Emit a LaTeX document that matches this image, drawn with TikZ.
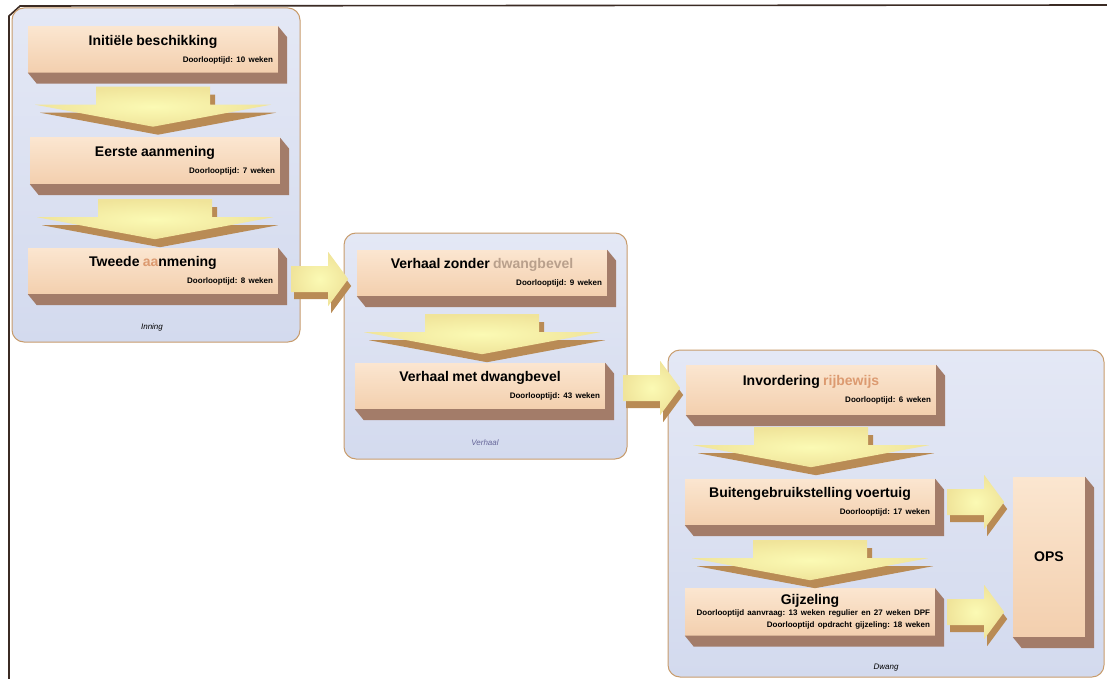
\documentclass[tikz,border=0pt]{standalone}
\usepackage{fontspec}
\setmainfont{Liberation Sans}
\frenchspacing
\usetikzlibrary{shapes,arrows}
\definecolor{phasefill}{HTML}{D3DAEE}
\definecolor{phasetop}{HTML}{E4E8F5}
\definecolor{phaseline}{HTML}{C89C6C}
\definecolor{stagetop}{HTML}{FBE6D0}
\definecolor{stagebot}{HTML}{F3CFAE}
\definecolor{depthcol}{HTML}{A37C69}
\definecolor{arrowlight}{HTML}{FBFAB4}
\definecolor{arrowyellow}{HTML}{F0E49A}
\definecolor{arrowbrown}{HTML}{B98B55}
\definecolor{scanline}{HTML}{3B2B24}
\definecolor{smudge}{HTML}{DC9A70}
\definecolor{smudgegray}{HTML}{B9A08C}
\tikzstyle{phase} = [draw=phaseline, line width=1pt, rounded corners=12pt, top color=phasetop, bottom color=phasefill, inner sep=0pt]
\tikzstyle{stage} = [top color=stagetop, bottom color=stagebot, minimum width=250pt, minimum height=46pt, text width=240pt, inner sep=5pt, align=right]
\tikzstyle{phaselabel} = [font=\fontsize{8}{9}\selectfont\itshape]
\tikzstyle{arrowface} = [inner color=arrowlight, outer color=arrowyellow]
\tikzstyle{arrowedge} = [fill=arrowbrown]
\newcommand{\stagetitle}[1]{\makebox[240pt][c]{\fontsize{14}{16}\selectfont\bfseries #1}}
\newcommand{\durfont}{\fontsize{8}{10}\selectfont\bfseries}
\newcommand{\boxdepth}[1]{\fill[depthcol] (#1.north east) -- ++(9,11) -- ([shift={(9,11)}]#1.south east) -- ([shift={(9,11)}]#1.south west) -- (#1.south west) -- (#1.south east) -- cycle;}
\tikzset{
  chevdown/.pic={
    \path[arrowedge] (-52,8) -- (62,8) -- (62,26) -- (123,26) -- (5,48) -- (-113,26) -- (-52,26) -- cycle;
    \path[arrowface] (-57,0) -- (57,0) -- (57,18) -- (118,18) -- (0,40) -- (-118,18) -- (-57,18) -- cycle;
  },
  chevright/.pic={
    \path[arrowedge] (3,-6) -- (40,-6) -- (40,-20) -- (60,7) -- (40,34) -- (40,20) -- (3,20) -- cycle;
    \path[arrowface] (0,-13) -- (37,-13) -- (37,-27) -- (57,0) -- (37,27) -- (37,13) -- (0,13) -- cycle;
  }
}

\begin{document}
\begin{tikzpicture}[x=1pt, y=-1pt]
\useasboundingbox (0,0) rectangle (1107,679);
\draw[scanline, line width=1.6pt] (9,679) -- (9,16) -- (20,6) -- (1107,5);

% fasen
\node[phase, minimum width=288pt, minimum height=334pt] (inning) at (156,175) {};
\node[phase, minimum width=283pt, minimum height=226pt] (verhaal) at (485.5,346) {};
\node[phase, minimum width=436pt, minimum height=327pt] (dwang) at (886,513.5) {};
\node[phaselabel] (inninglbl) at (152,327) {Inning};
\node[phaselabel, text=gray!80!blue] (verhaallbl) at (485,443) {Verhaal};
\node[phaselabel] (dwanglbl) at (886,668) {Dwang};

% inning
\node[stage] (b1) at (153,49.5) {\stagetitle{Initiële beschikking}\\[5pt] \durfont Doorlooptijd: 10 weken};
\boxdepth{b1}
\node[stage] (b2) at (155,161) {\stagetitle{Eerste aanmening}\\[5pt] \durfont Doorlooptijd: 7 weken};
\boxdepth{b2}
\node[stage] (b3) at (153,271) {\stagetitle{Tweede \textcolor{smudge}{aa}nmening}\\[5pt] \durfont Doorlooptijd: 8 weken};
\boxdepth{b3}
\pic at ([yshift=-14pt]b1.south) {chevdown};
\pic at ([yshift=-15pt]b2.south) {chevdown};

% verhaal
\node[stage] (b4) at (482,273) {\stagetitle{Verhaal zonder \textcolor{smudgegray}{dwangbevel}}\\[5pt] \durfont Doorlooptijd: 9 weken};
\boxdepth{b4}
\node[stage] (b5) at (480,386) {\stagetitle{Verhaal met dwangbevel}\\[5pt] \durfont Doorlooptijd: 43 weken};
\boxdepth{b5}
\pic at ([yshift=-18pt]b4.south) {chevdown};
\pic at ([xshift=13pt, yshift=-8pt]b3.east) {chevright};

% dwang
\node[stage, minimum height=50pt] (b6) at (811,390) {\stagetitle{Invordering \textcolor{smudge}{rijbewijs}}\\[5pt] \durfont Doorlooptijd: 6 weken};
\boxdepth{b6}
\node[stage] (b7) at (810,502) {\stagetitle{Buitengebruikstelling voertuig}\\[5pt] \durfont Doorlooptijd: 17 weken};
\boxdepth{b7}
\node[stage, minimum height=47pt] (b8) at (810,612) {\stagetitle{Gijzeling}\\[1pt] \durfont Doorlooptijd aanvraag: 13 weken regulier en 27 weken DPF\\ Doorlooptijd opdracht gijzeling: 18 weken};
\boxdepth{b8}
\node[stage, minimum width=72pt, minimum height=160pt, text width=62pt, align=center, font=\fontsize{14}{16}\selectfont\bfseries] (ops) at (1049,557) {OPS};
\boxdepth{ops}
\pic at ([yshift=-12pt]b6.south) {chevdown};
\pic at ([yshift=-15pt]b7.south) {chevdown};
\pic at ([xshift=18pt, yshift=-2pt]b5.east) {chevright};
\pic at ([xshift=12pt]b7.east) {chevright};
\pic at ([xshift=12pt]b8.east) {chevright};
\end{tikzpicture}
\end{document}
